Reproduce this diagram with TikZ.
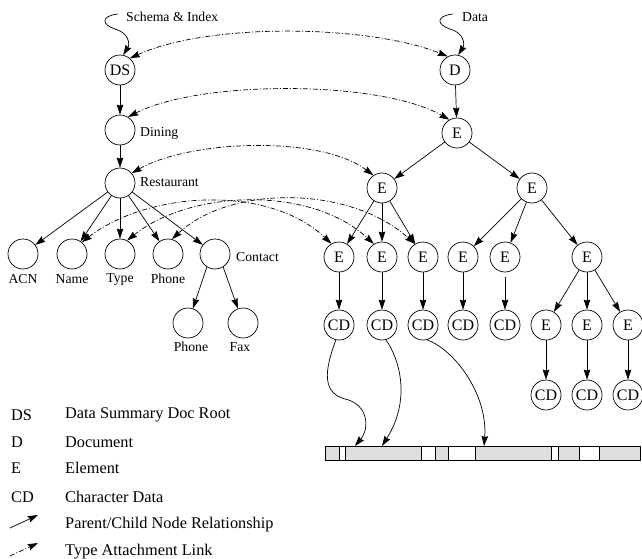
\documentclass[tikz,border=0pt]{standalone}
\usepackage{fontspec}
\setmainfont{Liberation Serif}
\usetikzlibrary{arrows.meta}
\definecolor{barfill}{RGB}{222,222,222}
\begin{document}
\begin{tikzpicture}[x=1pt,y=-1pt,
  nd/.style={circle,draw,line width=0.7pt,minimum size=30pt,inner sep=0pt,font=\fontsize{16}{16}\selectfont},
  lbl/.style={inner sep=0pt,font=\fontsize{13.7}{14}\selectfont},
  leg/.style={inner sep=0pt,anchor=west,font=\fontsize{16.3}{17}\selectfont},
  tip/.style={Stealth[length=10pt,width=6.5pt,inset=1pt]},
  pc/.style={line width=0.7pt,-{Stealth[length=10pt,width=6.5pt,inset=1pt]}},
  tlbase/.style={line width=0.7pt,dash pattern=on 5pt off 2pt on 1pt off 2pt},
  tl/.style={tlbase,{Stealth[length=10pt,width=6.5pt,inset=1pt]}-{Stealth[length=10pt,width=6.5pt,inset=1pt]}},
  seg/.style={draw,line width=0.7pt,fill=barfill},
  wseg/.style={draw,line width=0.7pt,fill=white}]
\useasboundingbox (0,0) rectangle (642,559);

% ---------- schema tree ----------
\node[nd] (ds) at (120,70) {DS};
\node[nd] (din) at (120,130) {};
\node[nd] (res) at (120,183) {};
\node[nd] (acn) at (23,254) {};
\node[nd] (name) at (72,254) {};
\node[nd] (type) at (120,254) {};
\node[nd] (phone) at (168,254) {};
\node[nd] (contact) at (215,254) {};
\node[nd] (cphone) at (188,323) {};
\node[nd] (fax) at (243,323) {};

\node[lbl,anchor=west] (lsi) at (126,17) {Schema \& Index};
\node[lbl,anchor=west] (ldin) at (140,133) {Dining};
\node[lbl,anchor=west] (lres) at (140,182) {Restaurant};
\node[lbl] (lacn) at (23,279) {ACN};
\node[lbl] (lname) at (72,279) {Name};
\node[lbl] (ltype) at (120,279) {Type};
\node[lbl] (lphone) at (168,279) {Phone};
\node[lbl,anchor=west] (lcon) at (236,257) {Contact};
\node[lbl] (lcp) at (191,347) {Phone};
\node[lbl] (lfax) at (240,347) {Fax};

% ---------- data tree ----------
\node[nd] (d) at (455,70) {D};
\node[nd] (e0) at (457,133) {E};
\node[nd] (ea) at (382,188) {E};
\node[nd] (eb) at (532,188) {E};
\node[nd] (e1) at (339,257) {E};
\node[nd] (e2) at (382,257) {E};
\node[nd] (e3) at (423,257) {E};
\node[nd] (e4) at (463,257) {E};
\node[nd] (e5) at (505,257) {E};
\node[nd] (e6) at (587,257) {E};
\node[nd] (c1) at (339,325) {CD};
\node[nd] (c2) at (382,325) {CD};
\node[nd] (c3) at (423,325) {CD};
\node[nd] (c4) at (463,325) {CD};
\node[nd] (c5) at (505,325) {CD};
\node[nd] (e7) at (546,325) {E};
\node[nd] (e8) at (587,325) {E};
\node[nd] (e9) at (628,325) {E};
\node[nd] (c6) at (546,395) {CD};
\node[nd] (c7) at (587,395) {CD};
\node[nd] (c8) at (628,395) {CD};
\node[lbl,anchor=west] (ldata) at (462,17) {Data};

% ---------- entry wiggles ----------
\coordinate (wsi) at (118,14);
\coordinate (wd) at (453,14);
\draw[pc] (wsi) .. controls (100,16) and (102,25) .. (115,29) .. controls (129,33) and (130,44) .. (ds.78);
\draw[pc] (wd) .. controls (435,16) and (437,25) .. (450,29) .. controls (464,33) and (465,44) .. (d.78);

% ---------- parent/child edges ----------
\foreach \a/\b in {ds/din,din/res,res/acn,res/name,res/type,res/phone,res/contact,
  d/e0,e0/ea,e0/eb,ea/e1,ea/e2,ea/e3,eb/e4,eb/e5,eb/e6,
  e1/c1,e2/c2,e3/c3,e4/c4,e6/e7,e6/e8,e6/e9,e7/c6,e8/c7,e9/c8}
  \draw[pc] (\a) -- (\b);
\draw[pc,shorten <=5pt] (e5) -- (c5);
\draw[pc] (contact.238) -- (cphone);
\draw[pc] (contact.302) -- (fax);

% ---------- type attachment links ----------
\draw[tl] (ds.50) .. controls (210,22) and (370,25) .. (d.118);
\draw[tl] (din.58) .. controls (200,80) and (380,80) .. (e0.120);
\draw[tl] (res.40) .. controls (190,140) and (320,135) .. (ea.124);
\draw[tl] (name.50) .. controls (150,190) and (270,185) .. (e1.120);
\draw[tl] (type.62) .. controls (190,190) and (310,185) .. (e2.122);
\draw[tl] (phone.75) .. controls (230,185) and (350,185) .. (e3.122);

% ---------- character data bar ----------
\foreach \xa/\xb/\s in {325.7/339/seg,339/345.7/wseg,345.7/421.7/seg,421.7/435/wseg,
  435/448/seg,448/475.7/wseg,475.7/551.7/seg,551.7/558/wseg,558/579/seg,579/599/wseg,599/640/seg}
  \path[\s] (\xa,446) rectangle (\xb,460);
\coordinate (b1) at (355,446);
\coordinate (b2) at (382,446);
\coordinate (b3) at (484,446);
\draw[pc] (c1.258) .. controls (328,362) and (318,392) .. (345,399) .. controls (368,404) and (370,428) .. (b1);
\draw[pc] (c2.285) .. controls (400,360) and (411,400) .. (b2);
\draw[pc] (c3.285) .. controls (455,350) and (488,395) .. (b3);

% ---------- legend ----------
\node[leg] (g1a) at (11,415) {DS};
\node[leg] (g1b) at (65,415) {Data Summary Doc Root};
\node[leg] (g2a) at (11,442) {D};
\node[leg] (g2b) at (65,442) {Document};
\node[leg] (g3a) at (11,468) {E};
\node[leg] (g3b) at (65,468) {Element};
\node[leg] (g4a) at (11,497) {CD};
\node[leg] (g4b) at (65,497) {Character Data};
\node[leg] (g5b) at (65,525) {Parent/Child Node Relationship};
\node[leg] (g6b) at (65,552) {Type Attachment Link};
\coordinate (la1) at (10,528);
\coordinate (la2) at (38,515);
\coordinate (lb1) at (10,556);
\coordinate (lb2) at (38,543);
\draw[pc] (la1) -- (la2);
\draw[tlbase,-{Stealth[length=10pt,width=6.5pt,inset=1pt]}] (lb1) -- (lb2);
\end{tikzpicture}
\end{document}
